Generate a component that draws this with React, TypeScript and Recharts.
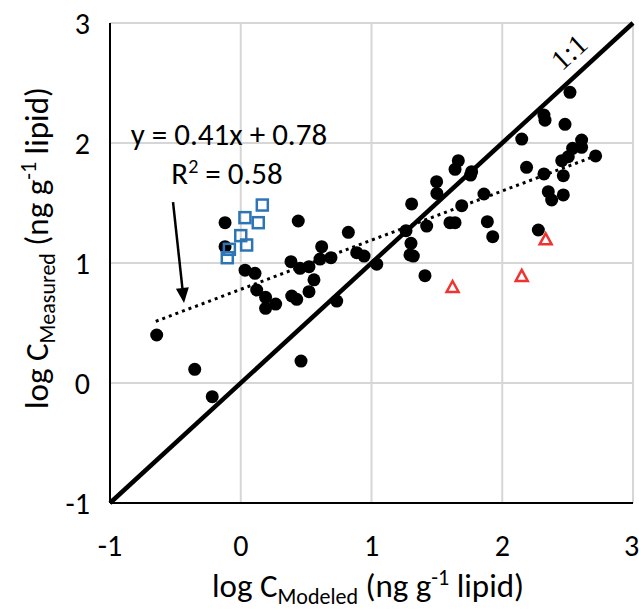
import React from 'react';
import {
  ScatterChart,
  Scatter,
  XAxis,
  YAxis,
  CartesianGrid,
  ReferenceLine,
  ReferenceDot,
} from 'recharts';

const FONT = 'Carlito, Lato, "Liberation Sans", sans-serif';

// ---- data ----
const xTicks = [-1, 0, 1, 2, 3];
const yTicks = [-1, 0, 1, 2, 3];

const blackX = [
  -0.643, -0.352, -0.218, 0.461, -0.12, -0.12, 0.033, 0.109, 0.122, 0.19, 0.19, 0.267, 0.39, 0.428,
  0.522, 0.56, 0.44, 0.823, 0.619, 0.606, 0.69, 0.887, 0.943, 1.04, 0.384, 0.453, 0.522, 0.734,
  1.307, 1.498, 1.5, 1.264, 1.422, 1.302, 1.294, 1.32, 1.409, 1.6, 1.639, 1.69, 1.86, 1.664, 1.639,
  1.766, 1.758, 1.886, 1.927, 2.518, 2.319, 2.327, 2.48, 2.149, 2.607, 2.538, 2.607, 2.505, 2.455,
  2.714, 2.186, 2.319, 2.467, 2.352, 2.378, 2.467, 2.276,
];
const blackY = [
  0.4, 0.114, -0.114, 0.183, 1.336, 1.136, 0.94, 0.914, 0.775, 0.714, 0.622, 0.658, 0.725, 0.697,
  0.761, 0.86, 1.35, 1.256, 1.136, 1.033, 1.044, 1.086, 1.058, 0.99, 1.011, 0.956, 0.969, 0.683,
  1.492, 1.678, 1.58, 1.269, 1.308, 1.164, 1.067, 1.058, 0.894, 1.336, 1.336, 1.478, 1.575, 1.853,
  1.781, 1.761, 1.733, 1.344, 1.219, 2.422, 2.233, 2.19, 2.156, 2.033, 2.025, 1.956, 1.964, 1.886,
  1.853, 1.892, 1.797, 1.742, 1.728, 1.594, 1.525, 1.567, 1.275,
];

const blueX = [0.165, 0.032, 0.134, 0.0, 0.045, -0.087, -0.103];
const blueY = [1.483, 1.378, 1.336, 1.228, 1.15, 1.114, 1.044];

const redX = [1.62, 2.149, 2.332];
const redY = [0.8, 0.892, 1.197];

const oneToOneX = [-1, 3];
const oneToOneY = [-1, 3];

const trendX = [-0.65, 2.68];
const trendY = [0.514, 1.879];

const arrowX = [-0.518, -0.434];
const arrowY = [1.508, 0.667];

const eqText = 'y = 0.41x + 0.78';
const eqPos = { x: -0.09, y: 1.983 };
const r2Pos = { x: -0.105, y: 1.658 };
const oneLabelPos = { x: 2.51, y: 2.76 };

const toPts = (xs: number[], ys: number[]) => xs.map((x, i) => ({ x, y: ys[i] }));

const blackData = toPts(blackX, blackY);
const blueData = toPts(blueX, blueY);
const redData = toPts(redX, redY);

// ---- shapes ----
const CircleShape = (p: any) => <circle cx={p.cx} cy={p.cy} r={6.5} fill="#000" />;
const SquareShape = (p: any) => (
  <rect x={p.cx - 5.5} y={p.cy - 5.5} width={11} height={11} fill="none" stroke="#2E75B6" strokeWidth={2.5} />
);
const TriShape = (p: any) => (
  <polygon
    points={`${p.cx},${p.cy - 6} ${p.cx + 6},${p.cy + 5} ${p.cx - 6},${p.cy + 5}`}
    fill="none"
    stroke="#EE3330"
    strokeWidth={2.5}
  />
);

const ArrowShape = (p: any) => {
  const { x1, y1, x2, y2 } = p;
  const ang = Math.atan2(y2 - y1, x2 - x1);
  const L = 15;
  const W = 6.5;
  const bx = x2 - L * Math.cos(ang);
  const by = y2 - L * Math.sin(ang);
  const nx = -Math.sin(ang);
  const ny = Math.cos(ang);
  return (
    <g>
      <line x1={x1} y1={y1} x2={bx} y2={by} stroke="#000" strokeWidth={2.5} />
      <polygon
        points={`${x2},${y2} ${bx + W * nx},${by + W * ny} ${bx - W * nx},${by - W * ny}`}
        fill="#000"
      />
    </g>
  );
};

const EqShape = (p: any) => (
  <text x={p.cx} y={p.cy} textAnchor="middle" fontSize={31} fontFamily={FONT} fill="#000">
    {eqText}
  </text>
);
const R2Shape = (p: any) => (
  <text x={p.cx} y={p.cy} textAnchor="middle" fontSize={31} fontFamily={FONT} fill="#000">
    R<tspan dy={-11} fontSize={20}>2</tspan>
    <tspan dy={11}> = 0.58</tspan>
  </text>
);
const OneShape = (p: any) => (
  <text
    x={p.cx}
    y={p.cy}
    dy="0.35em"
    textAnchor="middle"
    fontSize={29}
    fontFamily='"Liberation Serif", "DejaVu Serif", serif'
    fill="#000"
    transform={`rotate(-42.5 ${p.cx} ${p.cy})`}
  >
    1:1
  </text>
);

export default function App() {
  return (
    <div style={{ position: 'absolute', left: 0, top: 0, width: 639, height: 612, background: '#fff' }}>
      <ScatterChart width={639} height={612} margin={{ top: 23, right: 6, bottom: 0, left: 0 }}>
        <CartesianGrid stroke="#d6d6d6" strokeWidth={2} />
        <XAxis
          type="number"
          dataKey="x"
          domain={[-1, 3]}
          ticks={xTicks}
          allowDataOverflow
          height={109}
          tickSize={0}
          tickMargin={32}
          tick={{ fontSize: 30, fill: '#000', fontFamily: FONT }}
          axisLine={{ stroke: '#000', strokeWidth: 2 }}
        />
        <YAxis
          type="number"
          dataKey="y"
          domain={[-1, 3]}
          ticks={yTicks}
          allowDataOverflow
          width={110}
          tickSize={0}
          tickMargin={20}
          tick={{ fontSize: 30, fill: '#000', fontFamily: FONT }}
          axisLine={{ stroke: '#000', strokeWidth: 2 }}
        />
        <ReferenceLine
          segment={[
            { x: oneToOneX[0], y: oneToOneY[0] },
            { x: oneToOneX[1], y: oneToOneY[1] },
          ]}
          stroke="#000"
          strokeWidth={4.5}
        />
        <ReferenceLine
          segment={[
            { x: trendX[0], y: trendY[0] },
            { x: trendX[1], y: trendY[1] },
          ]}
          stroke="#000"
          strokeWidth={3}
          strokeDasharray="3 4"
        />
        <ReferenceLine
          segment={[
            { x: arrowX[0], y: arrowY[0] },
            { x: arrowX[1], y: arrowY[1] },
          ]}
          shape={ArrowShape}
        />
        <Scatter data={blackData} shape={CircleShape} isAnimationActive={false} />
        <Scatter data={blueData} shape={SquareShape} isAnimationActive={false} />
        <Scatter data={redData} shape={TriShape} isAnimationActive={false} />
        <ReferenceDot x={eqPos.x} y={eqPos.y} r={0} shape={EqShape} />
        <ReferenceDot x={r2Pos.x} y={r2Pos.y} r={0} shape={R2Shape} />
        <ReferenceDot x={oneLabelPos.x} y={oneLabelPos.y} r={0} shape={OneShape} />
      </ScatterChart>
      <svg
        width={639}
        height={612}
        style={{ position: 'absolute', left: 0, top: 0, pointerEvents: 'none' }}
      >
        <text x={368} y={597} textAnchor="middle" fontSize={33} fontFamily={FONT} fill="#000">
          log C<tspan dy={7} fontSize={22}>Modeled</tspan>
          <tspan dy={-7}> (ng g</tspan>
          <tspan dy={-12} fontSize={22}>-1</tspan>
          <tspan dy={12}> lipid)</tspan>
        </text>
        <text
          transform="translate(48,248) rotate(-90)"
          textAnchor="middle"
          fontSize={33}
          fontFamily={FONT}
          fill="#000"
        >
          log C<tspan dy={7} fontSize={22}>Measured</tspan>
          <tspan dy={-7}> (ng g</tspan>
          <tspan dy={-12} fontSize={22}>-1</tspan>
          <tspan dy={12}> lipid)</tspan>
        </text>
      </svg>
    </div>
  );
}
